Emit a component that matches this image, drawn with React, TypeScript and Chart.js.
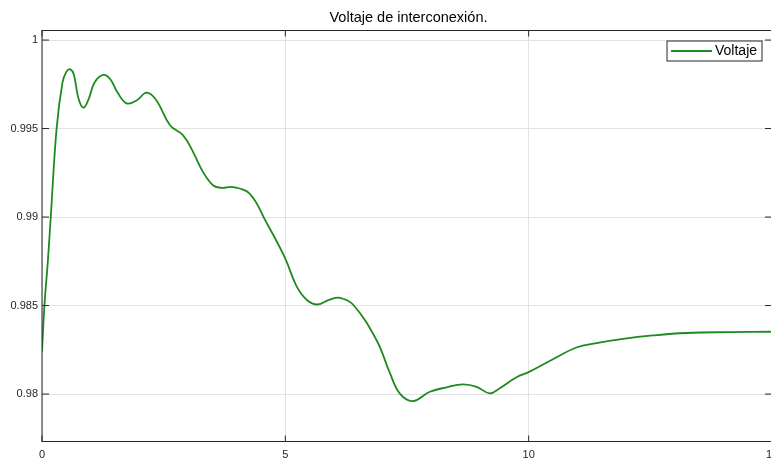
import React, { useEffect, useRef } from "react";
import { Chart, registerables } from "chart.js";

Chart.register(...registerables);

const chartTitle = "Voltaje de interconexión.";
const seriesLabel = "Voltaje";

const timeValues = [
  0, 0.05, 0.12, 0.18, 0.3, 0.42, 0.5, 0.575, 0.65, 0.75, 0.85, 0.95, 1.08, 1.26, 1.4, 1.55, 1.74,
  1.95, 2.15, 2.35, 2.63, 2.9, 3.1, 3.31, 3.52, 3.69, 3.93, 4.27, 4.61, 4.99, 5.23, 5.45, 5.66,
  5.91, 6.12, 6.39, 6.87, 7.15, 7.35, 7.62, 7.97, 8.31, 8.65, 8.93, 9.2, 9.4, 9.75, 10.02, 10.5,
  10.98, 11.39, 11.94, 12.55, 13.24, 14.13, 15,
];

const voltageValues = [
  0.9824, 0.985, 0.9875, 0.99, 0.995, 0.9976, 0.9982, 0.99835, 0.9981, 0.9967, 0.99618, 0.9966,
  0.9976, 0.99803, 0.9978, 0.99705, 0.99642, 0.9966, 0.99703, 0.9966, 0.99519, 0.99462, 0.9937,
  0.99254, 0.99178, 0.99165, 0.99169, 0.99131, 0.9897, 0.98771, 0.9861, 0.9853, 0.98506, 0.98534,
  0.98544, 0.98506, 0.98307, 0.98118, 0.98004, 0.9796, 0.98013, 0.98038, 0.98055, 0.98041,
  0.98004, 0.98032, 0.98095, 0.98127, 0.98197, 0.98263, 0.98288, 0.98312, 0.98331, 0.98345,
  0.9835, 0.98352,
];

const xTicks = [0, 5, 10, 15];
const yTicks = [0.98, 0.985, 0.99, 0.995, 1];
const xRange = [0, 15];
const yRange = [0.97732, 1.00054];

const FONT = "'Liberation Sans', Arial, Helvetica, sans-serif";
const AXIS_COLOR = "#262626";
const LINE_COLOR = "#1e8a1e";

const framePlugin = {
  id: "matlabFrame",
  afterDatasetsDraw(chart: any) {
    const { ctx, chartArea: a, scales } = chart;
    ctx.save();
    ctx.strokeStyle = AXIS_COLOR;
    ctx.lineWidth = 1;
    ctx.beginPath();
    for (const t of xTicks) {
      const px = scales.x.getPixelForValue(t);
      ctx.moveTo(px, a.bottom);
      ctx.lineTo(px, a.bottom - 6);
      ctx.moveTo(px, a.top);
      ctx.lineTo(px, a.top + 6);
    }
    for (const v of yTicks) {
      const py = scales.y.getPixelForValue(v);
      ctx.moveTo(a.left, py);
      ctx.lineTo(a.left + 7, py);
      ctx.moveTo(a.right, py);
      ctx.lineTo(a.right - 7, py);
    }
    ctx.stroke();
    ctx.strokeRect(a.left, a.top, a.right - a.left, a.bottom - a.top);

    // title centred over the plot area
    ctx.fillStyle = "#000000";
    ctx.font = `14.5px ${FONT}`;
    ctx.textAlign = "center";
    ctx.textBaseline = "middle";
    ctx.fillText(chartTitle, (a.left + a.right) / 2 + 1.5, 18);

    // legend box
    const ds = chart.data.datasets[0];
    const bw = 95;
    const bh = 20;
    const bx = a.right - 10 - bw;
    const by = a.top + 10.5;
    ctx.fillStyle = "#ffffff";
    ctx.fillRect(bx, by, bw, bh);
    ctx.strokeStyle = AXIS_COLOR;
    ctx.lineWidth = 1;
    ctx.strokeRect(bx, by, bw, bh);
    ctx.strokeStyle = ds.borderColor;
    ctx.lineWidth = 2;
    ctx.beginPath();
    ctx.moveTo(bx + 4, by + bh / 2);
    ctx.lineTo(bx + 45, by + bh / 2);
    ctx.stroke();
    ctx.fillStyle = "#000000";
    ctx.font = `14px ${FONT}`;
    ctx.textBaseline = "middle";
    ctx.textAlign = "left";
    ctx.fillText(ds.label, bx + 48, by + bh / 2 + 0.5);
    ctx.restore();
  },
};

export default function App() {
  const ref = useRef<HTMLCanvasElement | null>(null);

  useEffect(() => {
    if (!ref.current) return;
    const points = timeValues.map((t, i) => ({ x: t, y: voltageValues[i] }));
    const chart = new Chart(ref.current, {
      type: "scatter",
      data: {
        datasets: [
          {
            label: seriesLabel,
            data: points,
            showLine: true,
            borderColor: LINE_COLOR,
            backgroundColor: LINE_COLOR,
            borderWidth: 1.8,
            pointRadius: 0,
            tension: 0.4,
          },
        ],
      },
      options: {
        responsive: false,
        animation: false,
        devicePixelRatio: 1,
        layout: { padding: { left: 0, right: 20, top: 30.5, bottom: 0 } },
        plugins: {
          legend: { display: false },
          tooltip: { enabled: false },
          title: { display: false },
        },
        scales: {
          x: {
            type: "linear",
            min: xRange[0],
            max: xRange[1],
            afterBuildTicks: (s: any) => {
              s.ticks = xTicks.map((v) => ({ value: v }));
            },
            afterFit: (s: any) => {
              s.height = 32.5;
            },
            ticks: {
              color: AXIS_COLOR,
              font: { family: FONT, size: 11 },
              padding: 7,
              maxRotation: 0,
              callback: (v: any) => String(v),
            },
            grid: { color: "#e2e2e2", lineWidth: 1, drawTicks: false },
            border: { display: false },
          },
          y: {
            type: "linear",
            min: yRange[0],
            max: yRange[1],
            afterBuildTicks: (s: any) => {
              s.ticks = yTicks.map((v) => ({ value: v }));
            },
            afterFit: (s: any) => {
              s.width = 42;
            },
            ticks: {
              color: AXIS_COLOR,
              font: { family: FONT, size: 11 },
              padding: 4,
              callback: (v: any) => String(parseFloat(Number(v).toFixed(4))),
            },
            grid: { color: "#e2e2e2", lineWidth: 1, drawTicks: false },
            border: { display: false },
          },
        },
      },
      plugins: [framePlugin],
    } as any);
    return () => chart.destroy();
  }, []);

  return (
    <div
      style={{
        position: "fixed",
        left: 0,
        top: 0,
        width: 771,
        height: 474,
        overflow: "hidden",
        background: "#ffffff",
      }}
    >
      <canvas ref={ref} width={792} height={474} style={{ display: "block" }} />
    </div>
  );
}
